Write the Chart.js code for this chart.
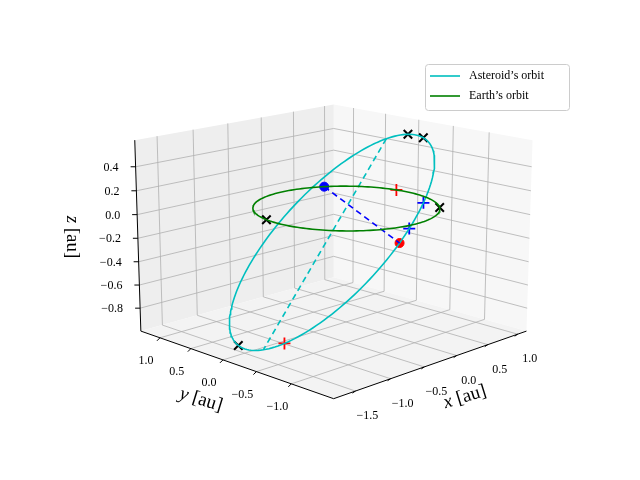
<!DOCTYPE html>
<html><head><meta charset="utf-8">
<script src="https://cdn.jsdelivr.net/npm/chart.js@4"></script>
<style>html,body{margin:0;padding:0;background:#fff}#w{width:640px;height:480px}</style>
</head><body><div id="w"><canvas id="c" width="640" height="480"></canvas></div>
<script>
// ---- data ----
const xTicks = [-1.5, -1.0, -0.5, 0.0, 0.5, 1.0];
const yTicks = [-1.0, -0.5, 0.0, 0.5, 1.0];
const zTicks = [-0.8, -0.6, -0.4, -0.2, 0.0, 0.2, 0.4];
const xLim = [-1.8, 1.15];
const yLim = [-1.58, 1.32];
const zLim = [-1.0, 0.62];
const earthRadius = 1.0;
// asteroid orbit: centre and two conjugate semi-axis vectors (au)
const astCenter = [-0.307, 0.0, -0.254];
const astU = [0.93, 0.0, 0.766];
const astV = [-0.40, -1.617, 0.483];
// markers: angles (deg) on Earth's orbit / parameter (deg) on asteroid orbit
const earthCrossDeg = [-45, 168];
const earthRedPlusDeg = [10];
const earthBlueDotDeg = [58.5];
const astCrossDeg = [16, 31, 204];
const astRedPlusDeg = [166];
const astBluePlusDeg = [82, 95];
const astRedDotDeg = [102];
const legendLabels = ["Asteroid\u2019s orbit", "Earth\u2019s orbit"];

// ---- projection (matplotlib-like 3D view) ----
const ELEV = 15 * Math.PI / 180, AZIM = -135 * Math.PI / 180, DIST = 6;
const S = 284, CX = 334, CY = 237, ZASP = 0.72;
const U = [Math.cos(ELEV) * Math.cos(AZIM), Math.cos(ELEV) * Math.sin(AZIM), Math.sin(ELEV)];
const R = [-Math.sin(AZIM), Math.cos(AZIM), 0];
const UP = [U[1] * R[2] - U[2] * R[1], U[2] * R[0] - U[0] * R[2], U[0] * R[1] - U[1] * R[0]];
function proj(x, y, z) {
  const n = [(x - (xLim[0] + xLim[1]) / 2) / (xLim[1] - xLim[0]),
             (y - (yLim[0] + yLim[1]) / 2) / (yLim[1] - yLim[0]),
             (z - (zLim[0] + zLim[1]) / 2) / (zLim[1] - zLim[0]) * ZASP];
  const px = n[0] * R[0] + n[1] * R[1] + n[2] * R[2];
  const py = n[0] * UP[0] + n[1] * UP[1] + n[2] * UP[2];
  const d = DIST - (n[0] * U[0] + n[1] * U[1] + n[2] * U[2]);
  return {x: CX + S * px * DIST / d, y: CY - S * py * DIST / d};
}
const earthPt = deg => { const t = deg * Math.PI / 180; return [earthRadius * Math.cos(t), earthRadius * Math.sin(t), 0]; };
const astPt = deg => { const t = deg * Math.PI / 180, c = Math.cos(t), s = Math.sin(t);
  return [0, 1, 2].map(i => astCenter[i] + astU[i] * c + astV[i] * s); };
const P = p => proj(p[0], p[1], p[2]);

const earthLine = [], astLine = [];
for (let k = 0; k <= 360; k += 2) { earthLine.push(P(earthPt(k))); astLine.push(P(astPt(k))); }
const apsides = [P(astPt(0)), P(astPt(180))];
const nodeLine = [P(earthPt(earthBlueDotDeg[0])), P(astPt(astRedDotDeg[0]))];

const ds = (data, o) => Object.assign({data, showLine: true, pointRadius: 0, borderWidth: 1.6, fill: false, tension: 0}, o);
const mk = (data, style, color, r, w) => ({data, showLine: false, pointStyle: style, pointRadius: r, pointHoverRadius: r,
  borderColor: color, backgroundColor: color, borderWidth: w});

const datasets = [
  ds(earthLine, {borderColor: '#008000', label: legendLabels[1]}),
  ds(apsides, {borderColor: '#00bfbf', borderDash: [6, 4]}),
  ds(nodeLine, {borderColor: '#0000ff', borderDash: [6, 4]}),
  ds(astLine, {borderColor: '#00bfbf', label: legendLabels[0]}),
  mk(earthCrossDeg.map(d => P(earthPt(d))).concat(astCrossDeg.map(d => P(astPt(d)))), 'crossRot', '#000', 6, 2),
  mk(earthRedPlusDeg.map(d => P(earthPt(d))).concat(astRedPlusDeg.map(d => P(astPt(d)))), 'cross', '#ff0000', 6, 1.8),
  mk(astBluePlusDeg.map(d => P(astPt(d))), 'cross', '#0000ff', 6, 1.8),
  mk(earthBlueDotDeg.map(d => P(earthPt(d))), 'circle', '#0000ff', 4.5, 1),
  mk(astRedDotDeg.map(d => P(astPt(d))), 'circle', '#ff0000', 4.5, 1),
];

const fmt = v => (v < 0 ? '\u2212' : '') + Math.abs(v).toFixed(1);

const axes3d = {
  id: 'axes3d',
  beforeDatasetsDraw(chart) {
    const ctx = chart.ctx, sx = chart.scales.x, sy = chart.scales.y;
    const Q = (x, y, z) => { const p = proj(x, y, z); return [sx.getPixelForValue(p.x), sy.getPixelForValue(p.y)]; };
    const [x0, x1] = xLim, [y0, y1] = yLim, [z0, z1] = zLim;
    const poly = (pts, fill) => { ctx.beginPath(); pts.forEach((p, i) => i ? ctx.lineTo(p[0], p[1]) : ctx.moveTo(p[0], p[1])); ctx.closePath(); ctx.fillStyle = fill; ctx.fill(); };
    const line = (a, b, col, w) => { ctx.beginPath(); ctx.moveTo(a[0], a[1]); ctx.lineTo(b[0], b[1]); ctx.strokeStyle = col; ctx.lineWidth = w; ctx.stroke(); };
    ctx.save();
    poly([Q(x1, y0, z0), Q(x1, y1, z0), Q(x1, y1, z1), Q(x1, y0, z1)], '#f7f7f7');
    poly([Q(x0, y1, z0), Q(x1, y1, z0), Q(x1, y1, z1), Q(x0, y1, z1)], '#eeeeee');
    poly([Q(x0, y0, z0), Q(x1, y0, z0), Q(x1, y1, z0), Q(x0, y1, z0)], '#f3f3f3');
    const g = '#b0b0b0';
    xTicks.forEach(t => { line(Q(t, y0, z0), Q(t, y1, z0), g, 0.8); line(Q(t, y1, z0), Q(t, y1, z1), g, 0.8); });
    yTicks.forEach(t => { line(Q(x0, t, z0), Q(x1, t, z0), g, 0.8); line(Q(x1, t, z0), Q(x1, t, z1), g, 0.8); });
    zTicks.forEach(t => { line(Q(x0, y1, t), Q(x1, y1, t), g, 0.8); line(Q(x1, y0, t), Q(x1, y1, t), g, 0.8); });
    line(Q(x0, y0, z0), Q(x1, y0, z0), '#000', 1);
    line(Q(x0, y0, z0), Q(x0, y1, z0), '#000', 1);
    line(Q(x0, y1, z0), Q(x0, y1, z1), '#000', 1);
    ctx.fillStyle = '#000'; ctx.textBaseline = 'middle';
    ctx.font = '12px "Liberation Serif", serif';
    ctx.textAlign = 'center';
    xTicks.forEach(t => { const a = Q(t, y0, z0); line(a, [a[0] - 3, a[1] + 2], '#000', 1); ctx.fillText(fmt(t), a[0] + 12, a[1] + 25); });
    yTicks.forEach(t => { const a = Q(x0, t, z0); line(a, [a[0] - 3, a[1] + 3], '#000', 1); ctx.fillText(fmt(t), a[0] - 14, a[1] + 23); });
    ctx.textAlign = 'right';
    zTicks.forEach(t => { const a = Q(x0, y1, t); line(a, [a[0] - 5, a[1]], '#000', 1); ctx.fillText(fmt(t), a[0] - 17, a[1] + 1); });
    const lbl = (p, s, rot) => { ctx.save(); ctx.translate(p[0], p[1]); ctx.rotate(rot);
      ctx.font = 'italic 19px "Liberation Serif", serif'; const w1 = ctx.measureText(s[0]).width;
      ctx.font = '19px "Liberation Serif", serif'; const w2 = ctx.measureText(s[1]).width;
      ctx.textAlign = 'left'; ctx.font = 'italic 19px "Liberation Serif", serif'; ctx.fillText(s[0], -(w1 + w2) / 2, 0);
      ctx.font = '19px "Liberation Serif", serif'; ctx.fillText(s[1], -(w1 + w2) / 2 + w1, 0); ctx.restore(); };
    lbl([465, 397], ['x', ' [au]'], -0.3);
    lbl([201, 400], ['y', ' [au]'], 0.3);
    lbl([72, 237], ['z', ' [au]'], Math.PI / 2);
    ctx.restore();
  },
  afterDatasetsDraw(chart) {
    const ctx = chart.ctx;
    ctx.save();
    ctx.fillStyle = 'rgba(255,255,255,0.85)'; ctx.strokeStyle = '#cccccc'; ctx.lineWidth = 1;
    ctx.beginPath(); ctx.roundRect(425.5, 64.5, 144, 46, 3); ctx.fill(); ctx.stroke();
    const cols = ['#00bfbf', '#008000'];
    ctx.font = '12px "Liberation Serif", serif'; ctx.textBaseline = 'middle'; ctx.fillStyle = '#000';
    legendLabels.forEach((s, i) => { const y = 76 + i * 20; ctx.beginPath(); ctx.moveTo(430, y); ctx.lineTo(460, y);
      ctx.strokeStyle = cols[i]; ctx.lineWidth = 1.6; ctx.stroke(); ctx.fillText(s, 469, y); });
    ctx.restore();
  }
};

new Chart(document.getElementById('c'), {
  type: 'scatter',
  data: {datasets},
  options: {
    responsive: false, animation: false, events: [],
    layout: {padding: 0},
    plugins: {legend: {display: false}, tooltip: {enabled: false}},
    scales: {
      x: {type: 'linear', min: 0, max: 640, display: false},
      y: {type: 'linear', min: 0, max: 480, reverse: true, display: false}
    }
  },
  plugins: [axes3d]
});
</script></body></html>
